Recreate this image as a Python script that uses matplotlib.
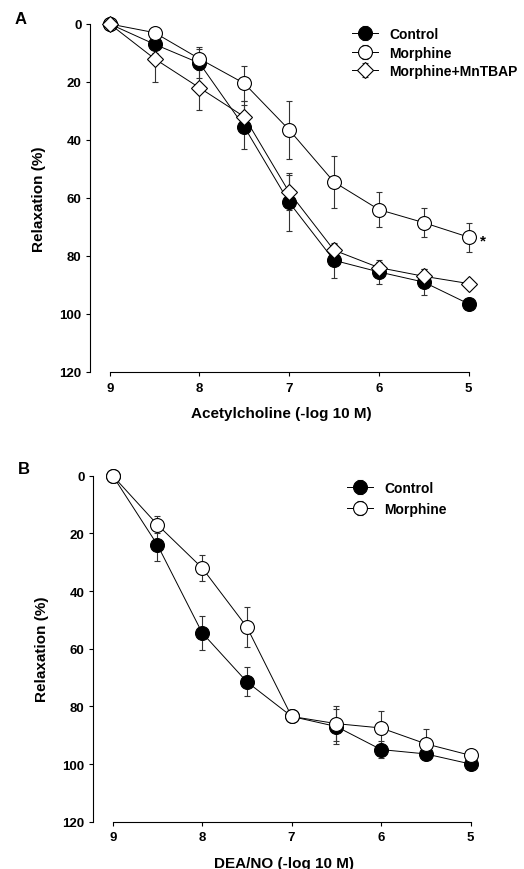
import matplotlib.pyplot as plt
import numpy as np

plt.rcParams['font.family'] = ['Liberation Sans', 'DejaVu Sans']
plt.rcParams['font.weight'] = 'bold'

# concentrations (-log M)
conc = [9, 8.5, 8, 7.5, 7, 6.5, 6, 5.5, 5]

# Panel A: acetylcholine
ach_control = [0, 7, 13.5, 35.5, 61.5, 81.5, 85.5, 89, 96.5]
ach_control_err = [0, 3, 5, 7.5, 10, 6, 4, 4.5, 1]
ach_morphine = [0, 3, 12, 20.5, 36.5, 54.5, 64, 68.5, 73.5]
ach_morphine_err = [0, 1, 4, 6, 10, 9, 6, 5, 5]
ach_mntbap = [0, 12, 22, 32, 58, 78, 84, 87, 89.5]
ach_mntbap_err = [0, 8, 7.5, 5.5, 6, 2, 2, 2.5, 1]

# Panel B: DEA/NO
dea_control = [0, 24, 54.5, 71.5, 83.5, 87, 95, 96.5, 100]
dea_control_err = [0, 5.5, 6, 5, 1.5, 6, 3, 2, 1]
dea_morphine = [0, 17, 32, 52.5, 83.5, 86, 87.5, 93, 97]
dea_morphine_err = [0, 3, 4.5, 7, 1, 6, 6, 5, 1]

yticks = [0, 20, 40, 60, 80, 100, 120]
xticks = [9, 8, 7, 6, 5]

fig = plt.figure(figsize=(5.24, 8.7), dpi=100)
axA = fig.add_axes([0.1718, 0.5713, 0.7309, 0.400])
axB = fig.add_axes([0.1775, 0.0544, 0.729, 0.3977])


def draw_series(ax, y, err, marker, fc, label, ms):
    ax.errorbar(conc, y, yerr=err, color='black', ecolor='#333333', elinewidth=0.8,
                capsize=2.5, capthick=0.8, lw=0.7, marker=marker, ms=ms,
                mfc=fc, mec='black', mew=0.8, label=label, clip_on=False, zorder=3)


def style_axis(ax, xlabel):
    ax.set_xlim(9.22, 4.95)
    ax.set_ylim(120, 0)
    ax.spines['top'].set_visible(False)
    ax.spines['right'].set_visible(False)
    ax.spines['bottom'].set_bounds(9, 5)
    ax.spines['left'].set_linewidth(0.8)
    ax.spines['bottom'].set_linewidth(0.8)
    ax.set_xticks(xticks)
    ax.set_yticks(yticks)
    ax.tick_params(direction='out', length=3, width=0.8, labelsize=9.5)
    ax.tick_params(axis='x', pad=4)
    ax.tick_params(axis='y', pad=3)
    ax.set_xlabel(xlabel, fontsize=11, fontweight='bold', labelpad=9)
    ax.set_ylabel('Relaxation (%)', fontsize=11, fontweight='bold', labelpad=10)


draw_series(axA, ach_control, ach_control_err, 'o', 'black', 'Control', 10)
draw_series(axA, ach_morphine, ach_morphine_err, 'o', 'white', 'Morphine', 10)
draw_series(axA, ach_mntbap, ach_mntbap_err, 'D', 'white', 'Morphine+MnTBAP', 8.5)
style_axis(axA, 'Acetylcholine (-log 10 M)')
axA.text(4.87, 74.5, '*', fontsize=11, ha='left', va='center')
axA.legend(loc='upper left', bbox_to_anchor=(0.684, 0.991), frameon=False, fontsize=10,
           handlelength=1.9, handletextpad=0.8, labelspacing=0.33,
           borderpad=0, borderaxespad=0)

draw_series(axB, dea_control, dea_control_err, 'o', 'black', 'Control', 10)
draw_series(axB, dea_morphine, dea_morphine_err, 'o', 'white', 'Morphine', 10)
style_axis(axB, 'DEA/NO (-log 10 M)')
axB.legend(loc='upper left', bbox_to_anchor=(0.665, 0.985), frameon=False, fontsize=10,
           handlelength=1.9, handletextpad=0.8, labelspacing=0.5,
           borderpad=0, borderaxespad=0)

fig.text(15 / 524, 1 - 20 / 870, 'A', fontsize=12, fontweight='bold', va='center')
fig.text(18 / 524, 1 - 470 / 870, 'B', fontsize=12, fontweight='bold', va='center')

fig.savefig('out.png', dpi=100)
